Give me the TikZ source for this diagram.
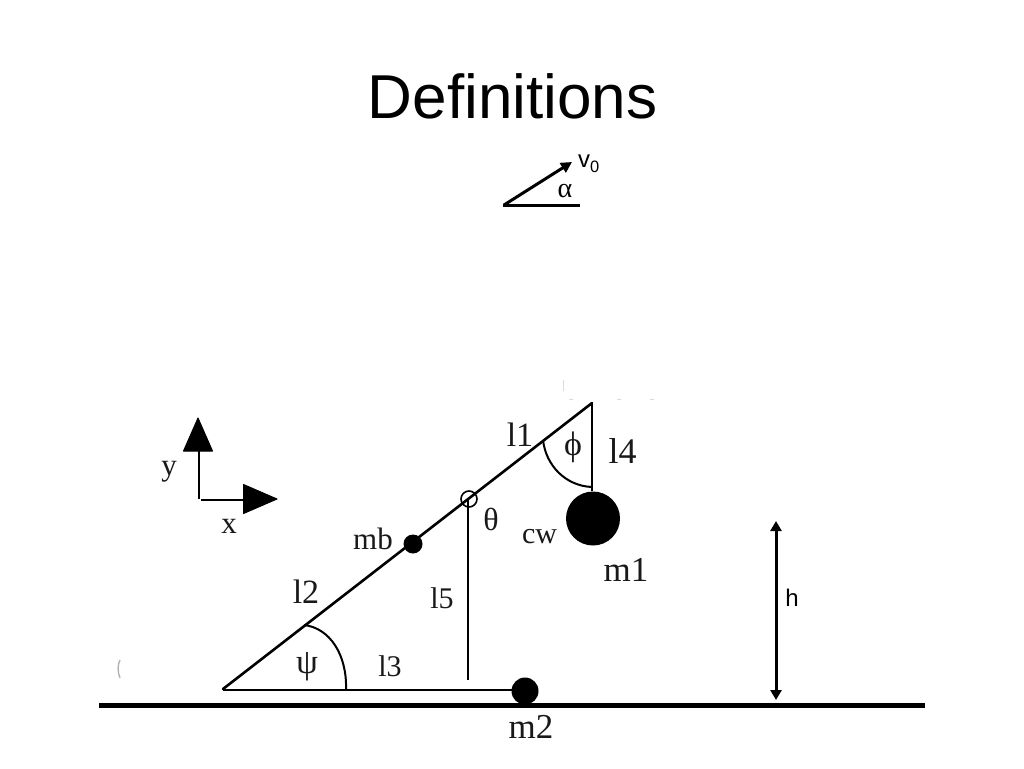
\documentclass[tikz,border=0pt]{standalone}
\usepackage{fontspec}
\setmainfont{Liberation Serif}
\newfontfamily\arialf{Liberation Sans}
\usetikzlibrary{arrows.meta}
\tikzset{
  lbl/.style={font=\fontsize{#1}{#1}\selectfont,inner sep=0pt,text=black!90},
  sanslbl/.style={font=\arialf\fontsize{#1}{#1}\selectfont,inner sep=0pt,text=black},
  beam/.style={line width=2.6pt,black},
  thin rod/.style={line width=2.2pt,black},
  ball/.style={circle,fill=black,inner sep=0pt,minimum size=#1},
  axis head/.style={fill=black,draw=black,line width=1pt,line join=round},
  ghost/.style={line width=0.8pt,black!14}
}
\begin{document}
\begin{tikzpicture}[x=1pt,y=-1pt]
\useasboundingbox (0,0) rectangle (1024,768);
\fill[white] (0,0) rectangle (1024,768);
% title
\node[sanslbl=62] (title) at (512.5,96.5) {Definitions};
% launch vector
\coordinate (vs) at (504,205);
\coordinate (vt) at (572,162);
\coordinate (vh) at (580,205);
\draw[line width=3pt,-{Triangle[length=11pt,width=11pt]}] (vs) -- (vt);
\draw[line width=3pt] (503,205) -- (vh);
\node[sanslbl=24,anchor=base west] (v0) at (578,167) {v\raisebox{-5pt}{\fontsize{16.5}{16.5}\selectfont 0}};
\node[lbl=28,text=black] (alpha) at (565,191) {α};
% ground
\coordinate (g1) at (99,705.5);
\coordinate (g2) at (925,705.5);
\draw[line width=5pt] (g1) -- (g2);
% geometry points
\coordinate (top) at (592,403);
\coordinate (base) at (223,689);
\coordinate (base2) at (223,690);
\node[ball=19pt] (mbb) at (413,544) {};
\node[ball=54pt] (m1b) at (593,518.5) {};
\node[ball=27pt] (m2b) at (525,691) {};
\coordinate (piv) at (468,499);
\coordinate (l5end) at (468,680);
% beam and rods
\draw[beam,line cap=round] (base) -- (top);
\draw[thin rod] (top) -- (m1b.north -| top);
\draw[thin rod] (base2) -- (base2 -| m2b.center);
\draw[thin rod] (piv) -- (l5end);
\node[circle,draw=black,line width=1.6pt,fill=none,minimum size=16pt,inner sep=0pt] (pivc) at (469,499) {};
% angle arcs
\coordinate (pa) at (543,440);
\coordinate (pb) at (592,487);
\draw[line width=2pt] (pa) .. controls (546,466) and (566,486) .. (pb);
\coordinate (qa) at (304,625);
\coordinate (qb) at (346,689);
\draw[line width=2pt] (qa) .. controls (330,628) and (347,655) .. (qb);
% axes
\coordinate (ox) at (199,499);
\coordinate (oy) at (199,450);
\coordinate (ox2) at (201,500);
\coordinate (xe) at (244,500);
\draw[line width=2.2pt] (ox) -- (oy);
\draw[line width=2.2pt] (ox2) -- (xe);
\fill[axis head] (198,418) -- (212.5,451) -- (183.5,451) -- cycle;
\fill[axis head] (277,499) -- (243.5,484.5) -- (243.5,513.5) -- cycle;
% height arrow
\coordinate (h1) at (776,521);
\coordinate (h2) at (776,700);
\draw[line width=3pt,{Triangle[length=10pt,width=11pt]}-{Triangle[length=10pt,width=11pt]}] (h1) -- (h2);
\node[sanslbl=24] (hlab) at (792,598) {h};
% labels
\node[lbl=31] (ly) at (169,472) {y};
\node[lbl=31] (lx) at (229,526) {x};
\node[lbl=34] (l1) at (520,435) {l1};
\node[lbl=36] (l4) at (622.5,451.5) {l4};
\node[lbl=34] (l2) at (306,591.5) {l2};
\node[lbl=30] (l5) at (442,598.5) {l5};
\node[lbl=30] (l3) at (390,666.5) {l3};
\node[lbl=35] (m1) at (626,570) {m1};
\node[lbl=35] (m2) at (531,727) {m2};
\node[lbl=31] (mb) at (373,539) {mb};
\node[lbl=30] (cw) at (539.5,537) {cw};
\node[lbl=32] (theta) at (491,519) {θ};
\node[lbl=34] (phi) at (573,447) {ϕ};
\node[lbl=35] (psi) at (307,667) {ψ};
% faint remnants
\coordinate (r1) at (120,660);
\coordinate (r2) at (120,678);
\draw[line width=1.4pt,black!30] (r1) .. controls (117.5,664) and (117.5,673) .. (r2);
\coordinate (r3) at (563.5,380);
\coordinate (r4) at (563.5,391);
\draw[ghost] (r3) -- (r4);
\coordinate (r5) at (569,399.5);
\coordinate (r6) at (573,399.5);
\draw[ghost] (r5) -- (r6);
\coordinate (r7) at (617,399.5);
\coordinate (r8) at (621,399.5);
\draw[ghost] (r7) -- (r8);
\coordinate (r9) at (650,399.5);
\coordinate (r10) at (654,399.5);
\draw[ghost] (r9) -- (r10);
\end{tikzpicture}
\end{document}
